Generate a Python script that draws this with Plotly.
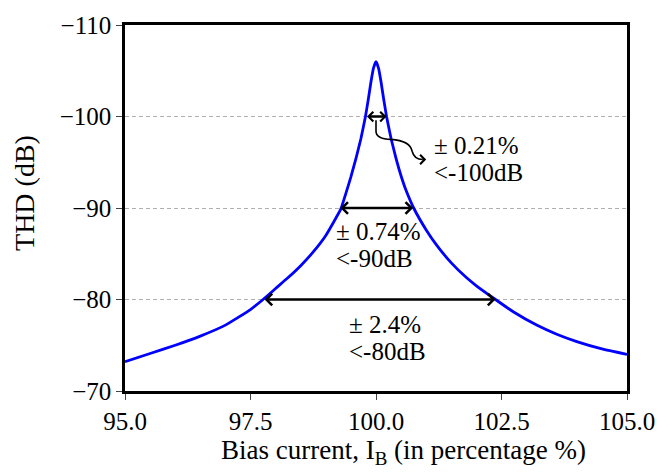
import plotly.graph_objects as go

# Bias current sweep (% of nominal) and resulting THD (dB)
bias = [95.0, 95.5, 96.0, 96.5, 97.0, 97.5, 97.75, 98.0, 98.25, 98.5, 98.75,
        99.0, 99.3, 99.4, 99.5, 99.6, 99.7, 99.79, 99.85, 99.9, 99.95, 100.0,
        100.05, 100.1, 100.15, 100.21, 100.3, 100.4, 100.5, 100.6, 100.75,
        101.0, 101.2, 101.5, 101.8, 102.0, 102.38, 102.75, 103.2, 103.6,
        104.0, 104.5, 105.0]
thd = [-73.2, -74.1, -75.0, -76.0, -77.2, -78.9, -80.0, -81.2, -82.4, -83.7, -85.2,
       -87.0, -89.9, -91.6, -93.4, -95.4, -97.6, -100.0, -102.0, -103.8, -105.3, -106.0,
       -105.3, -103.8, -102.0, -100.0, -97.6, -95.4, -93.5, -91.9, -90.0,
       -87.6, -86.0, -84.0, -82.4, -81.5, -80.0, -78.6, -77.2, -76.2,
       -75.4, -74.6, -74.0]

# Tolerance windows: THD level, half-width (%), and the two label lines
levels = [-100, -90, -80]
half_widths = [0.21, 0.74, 2.4]
window_lo = [99.79, 99.26, 97.75]
window_hi = [100.21, 100.74, 102.38]
head_sizes = [0.75, 0.9, 0.9]
label_top = ["± 0.21%", "± 0.74%", "± 2.4%"]
label_bottom = ["&lt;-100dB", "&lt;-90dB", "&lt;-80dB"]
label_x = [101.12, 99.17, 99.42]
label_top_y = [-96.85, -87.4, -77.3]
label_bottom_y = [-93.9, -84.5, -74.3]

x_ticks = [95.0, 97.5, 100.0, 102.5, 105.0]
y_ticks = [-110, -100, -90, -80, -70]

FONT = "Liberation Serif"

fig = go.Figure()
fig.add_trace(go.Scatter(
    x=bias, y=thd, mode="lines",
    line=dict(color="#0000ff", width=2.8, shape="spline", smoothing=0.4),
    showlegend=False, hoverinfo="skip",
))

# Double-headed arrows marking each tolerance window
for lv, lo, hi, hs in zip(levels, window_lo, window_hi, head_sizes):
    fig.add_annotation(
        x=hi, y=lv, ax=lo, ay=lv, xref="x", yref="y", axref="x", ayref="y",
        text="", showarrow=True, arrowhead=4, startarrowhead=4,
        arrowside="end+start", arrowsize=hs, startarrowsize=hs,
        arrowwidth=2.5, arrowcolor="black", standoff=0, startstandoff=0,
    )

# Window labels (two lines each)
for lx, t1, y1, t2, y2 in zip(label_x, label_top, label_top_y, label_bottom, label_bottom_y):
    for txt, ly in ((t1, y1), (t2, y2)):
        fig.add_annotation(
            x=lx, y=ly, xref="x", yref="y", text=txt, showarrow=False,
            xanchor="left", yanchor="middle", align="left",
            font=dict(family=FONT, size=25, color="black"),
        )

# Wavy leader from the narrowest window to its label
fig.add_shape(
    type="path", xref="x", yref="y",
    path=("M 100.0,-99.6 L 100.0,-98.4 Q 100.0,-97.55 100.3,-97.5 "
          "Q 100.68,-97.35 100.72,-96.2 Q 100.76,-95.3 100.93,-95.3"),
    line=dict(color="black", width=1.6),
)
fig.add_annotation(
    x=101.0, y=-95.3, ax=100.9, ay=-95.3, xref="x", yref="y", axref="x", ayref="y",
    text="", showarrow=True, arrowhead=4, arrowsize=1.0, arrowwidth=1.8,
    arrowcolor="black", standoff=0,
)

# Axis titles
fig.add_annotation(
    x=0.555, y=-0.168, xref="paper", yref="paper", showarrow=False,
    xanchor="center", yanchor="middle", borderpad=0,
    text="Bias current, I<sub>B</sub> (in percentage %)",
    font=dict(family=FONT, size=27, color="black"),
)
fig.add_annotation(
    x=-0.2, y=0.54, xref="paper", yref="paper", showarrow=False,
    xanchor="center", yanchor="middle", textangle=-90,
    text="THD (dB)",
    font=dict(family=FONT, size=28, color="black"),
)

fig.update_layout(
    width=672, height=472,
    margin=dict(l=125, r=45, t=14, b=81),
    paper_bgcolor="white", plot_bgcolor="white",
    font=dict(family=FONT, size=25, color="black"),
)
fig.update_xaxes(
    range=[95, 105], tickvals=x_ticks, tickformat=".1f",
    showline=True, mirror=True, linecolor="black", linewidth=2.5,
    ticks="outside", ticklen=6, tickwidth=1, tickcolor="#444",
    showgrid=False, zeroline=False, ticklabeloverflow="allow",
    tickfont=dict(family=FONT, size=25),
)
fig.update_yaxes(
    range=[-70, -110], tickvals=y_ticks,
    showline=True, mirror=True, linecolor="black", linewidth=2.5,
    ticks="outside", ticklen=6, tickwidth=1, tickcolor="#444",
    showgrid=True, gridcolor="#b0b0b0", gridwidth=1, griddash="4px,3px",
    zeroline=False, ticklabeloverflow="allow",
    tickfont=dict(family=FONT, size=25),
)

fig.write_html("out.html")
